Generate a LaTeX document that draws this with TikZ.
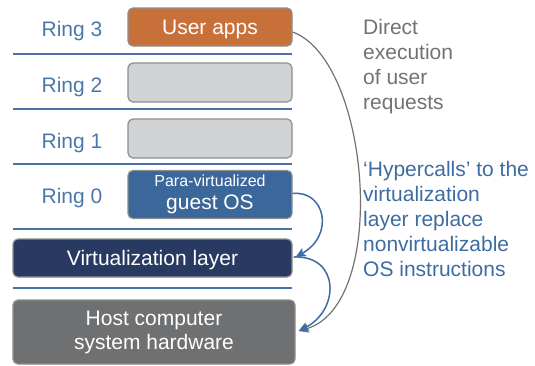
\documentclass[tikz,border=0pt]{standalone}
\usepackage{fontspec}
\setmainfont{Liberation Sans}
\usetikzlibrary{arrows.meta,calc}
\definecolor{ringblue}{HTML}{4A78AA}
\definecolor{sepblue}{HTML}{4A72A5}
\definecolor{userorange}{HTML}{C8703A}
\definecolor{ltgray}{HTML}{D0D2D3}
\definecolor{bordergray}{HTML}{8C8E90}
\definecolor{osblue}{HTML}{3C679A}
\definecolor{navy}{HTML}{283962}
\definecolor{hostgray}{HTML}{6E7072}
\definecolor{notegray}{HTML}{707274}
\definecolor{noteblue}{HTML}{3D6CA3}
\definecolor{arrowblue}{HTML}{3D6CA3}
\begin{document}
\begin{tikzpicture}[x=1pt,y=-1pt,
  bigfont/.style={font=\fontsize{21}{23.5}\selectfont},
  layerbox/.style={draw=bordergray, line width=1.2pt, rounded corners=5pt, inner sep=0pt, bigfont, text=white, align=center},
  onelinebox/.style={layerbox, text height=15pt, text depth=1pt},
  ringlabel/.style={bigfont, text=ringblue, anchor=base, inner sep=0pt},
  sepline/.style={draw=sepblue, line width=1.5pt},
  note/.style={anchor=north west, align=left, inner sep=0pt, font=\fontsize{21}{25}\selectfont},
  tip/.style={-{Stealth[length=10pt,width=9pt,inset=2pt]}},
  grayarrow/.style={tip, draw=notegray, line width=1.2pt},
  bluearrow/.style={tip, draw=arrowblue, line width=1.5pt}
]
\useasboundingbox (0,0) rectangle (535,365);

% separator lines
\foreach \yy in {54,109,164,229,288}
  \draw[sepline] (13,\yy) -- (292,\yy);

% layer boxes
\node[onelinebox, fill=userorange, minimum width=164pt, minimum height=38pt] (user) at (210,27) {User apps};
\node[layerbox, fill=ltgray, minimum width=164pt, minimum height=39pt] (ring2) at (210,82.5) {};
\node[layerbox, fill=ltgray, minimum width=164pt, minimum height=39pt] (ring1) at (210,138.5) {};
\node[layerbox, fill=osblue, minimum width=164pt, minimum height=48pt] (ring0) at (210,194.5) {{\fontsize{16}{18}\selectfont Para-virtualized}\\guest OS};
\node[onelinebox, fill=navy, minimum width=279pt, minimum height=38pt] (virt) at (152.5,258) {Virtualization layer};
\node[layerbox, fill=hostgray, minimum width=282pt, minimum height=64pt, font=\fontsize{21}{24}\selectfont] (host) at (154,332) {Host computer\\system hardware};

% ring labels
\node[ringlabel] (r3) at (72,36) {Ring 3};
\node[ringlabel] (r2) at (72,92) {Ring 2};
\node[ringlabel] (r1) at (72,148) {Ring 1};
\node[ringlabel] (r0) at (72,203) {Ring 0};

% notes
\node[note, text=notegray] (direct) at (363,19) {Direct\\execution\\of user\\requests};
\node[note, text=noteblue] (hyper) at (363,161) {‘Hypercalls’ to the\\virtualization\\layer replace\\nonvirtualizable\\OS instructions};

% arrows
\draw[grayarrow] ($(user.east)+(0,5)$) .. controls (370,60) and (390,305) .. ($(host.east)+(3,-1)$);
\draw[bluearrow] ($(ring0.east)+(0,-1)$) .. controls (325,190) and (335,235) .. ($(virt.east)+(3,-1)$);
\draw[bluearrow] ($(virt.east)+(1,-1)$) .. controls (340,255) and (340,310) .. ($(host.east)+(3,-1)$);
\end{tikzpicture}
\end{document}
